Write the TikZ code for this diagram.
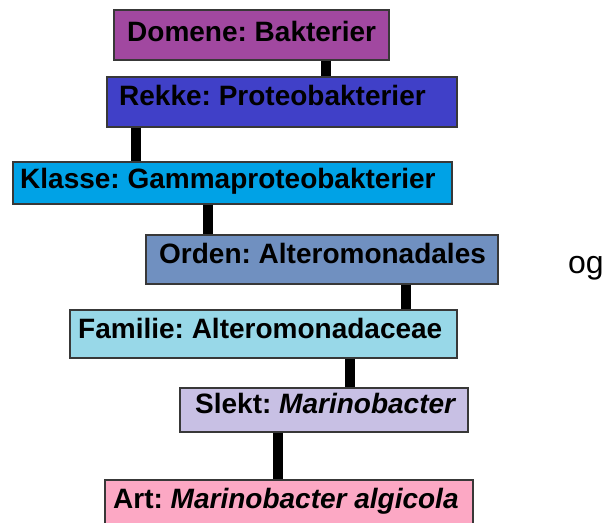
\documentclass[tikz,border=0pt]{standalone}
\usepackage{fontspec}
\setmainfont{Liberation Sans}
\definecolor{cDom}{HTML}{A148A0}
\definecolor{cRek}{HTML}{4040C8}
\definecolor{cKla}{HTML}{00A2E6}
\definecolor{cOrd}{HTML}{7090C0}
\definecolor{cFam}{HTML}{98D8E8}
\definecolor{cSle}{HTML}{C8C0E4}
\definecolor{cArt}{HTML}{FCA8C4}
\definecolor{cEdge}{HTML}{383838}
\begin{document}
\frenchspacing
\begin{tikzpicture}[x=1pt,y=-1pt,
  box/.style={draw=cEdge,line width=1.5pt,rectangle,inner sep=0pt,anchor=north west},
  lbl/.style={anchor=base west,inner sep=0pt,font=\fontsize{28}{34}\selectfont\bfseries\frenchspacing},
  conn/.style={line width=10.5pt,black}]
\clip (0,0) rectangle (613,522);
\useasboundingbox (0,0) rectangle (613,522);
% boxes
\node[box,fill=cDom,minimum width=275pt,minimum height=50pt] (dom) at (113,9) {};
\node[box,fill=cRek,minimum width=350pt,minimum height=50pt] (rek) at (106,76) {};
\node[box,fill=cKla,minimum width=439pt,minimum height=42pt] (kla) at (12,161) {};
\node[box,fill=cOrd,minimum width=352pt,minimum height=49pt] (ord) at (145,234) {};
\node[box,fill=cFam,minimum width=387pt,minimum height=48pt] (fam) at (69,309) {};
\node[box,fill=cSle,minimum width=288pt,minimum height=44pt] (sle) at (179,387) {};
\node[box,fill=cArt,minimum width=368pt,minimum height=60pt] (art) at (104,479) {};
% labels
\node[lbl] (domt) at ([shift={(14pt,-32pt)}]dom.north west) {Domene: Bakterier};
\node[lbl] (rekt) at ([shift={(13pt,-29pt)}]rek.north west) {Rekke: Proteobakterier};
\node[lbl] (klat) at ([shift={(8pt,-27pt)}]kla.north west) {Klasse: Gammaproteobakterier};
\node[lbl] (ordt) at ([shift={(14pt,-29pt)}]ord.north west) {Orden: Alteromonadales};
\node[lbl] (famt) at ([shift={(9pt,-29pt)}]fam.north west) {Familie: Alteromonadaceae};
\node[lbl] (slet) at ([shift={(16pt,-26pt)}]sle.north west) {Slekt: \textit{Marinobacter}};
\node[lbl] (artt) at ([shift={(9pt,-29pt)}]art.north west) {Art: \textit{Marinobacter algicola}};
% connectors
\path ([xshift=213pt]dom.south west) coordinate (k1);
\path ([xshift=30pt]rek.south west) coordinate (k2);
\path ([xshift=196pt]kla.south west) coordinate (k3);
\path ([xshift=261pt]ord.south west) coordinate (k4);
\path ([xshift=281pt]fam.south west) coordinate (k5);
\path ([xshift=99pt]sle.south west) coordinate (k6);
\draw[conn] (k1) -- (k1 |- rek.north);
\draw[conn] (k2) -- (k2 |- kla.north);
\draw[conn] (k3) -- (k3 |- ord.north);
\draw[conn] (k4) -- (k4 |- fam.north);
\draw[conn] (k5) -- (k5 |- sle.north);
\draw[conn] (k6) -- (k6 |- art.north);
% side text
\node[anchor=base west,inner sep=0pt,font=\fontsize{32}{38}\selectfont] (og) at (568,273) {og};
\end{tikzpicture}
\end{document}
